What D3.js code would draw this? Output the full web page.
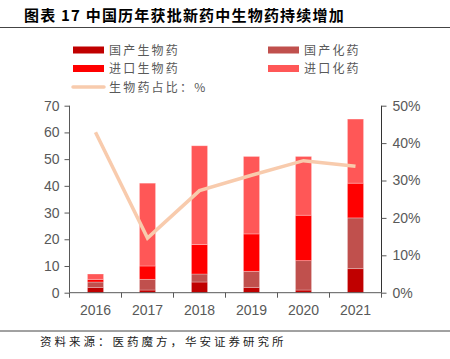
<!DOCTYPE html>
<html><head><meta charset="utf-8">
<script src="https://cdn.jsdelivr.net/npm/d3@7/dist/d3.min.js"></script>
<style>body{margin:0;background:#fff;}svg{display:block;}</style>
</head><body><svg id="c" width="450" height="359"></svg>
<script>
const years = ["2016","2017","2018","2019","2020","2021"];
const domesticBio = [2, 1, 4, 2, 1, 9];
const domesticChem = [2, 4, 3, 6, 11, 19];
const importBio = [1, 5, 11, 14, 17, 13];
const importChem = [2, 31, 37, 29, 22, 24];
const bioShare = [42.9, 14.6, 27.3, 31.4, 35.3, 33.8];
const leftTicks = [0,10,20,30,40,50,60,70];
const rightTicks = [0,10,20,30,40,50];
const seriesNames = ["国产生物药","国产化药","进口生物药","进口化药"];
const lineName = "生物药占比：%";
const colors = ["#C00000","#C0504D","#FF0000","#FF5757"];
const lineColor = "#F8CBAD";

const svg = d3.select("#c");
const font = "'Liberation Sans', Arial, sans-serif";
const cjk = "'Noto Sans CJK SC', sans-serif";

// title
svg.append("text").attr("x",24).attr("y",21).attr("font-family",cjk).attr("font-weight","bold")
  .attr("font-size",15).attr("fill","#000").attr("letter-spacing",1.2).text("图表 17  中国历年获批新药中生物药持续增加");
svg.append("line").attr("x1",0).attr("x2",450).attr("y1",27.5).attr("y2",27.5).attr("stroke","#444").attr("stroke-width",1);
svg.append("line").attr("x1",0).attr("x2",450).attr("y1",331).attr("y2",331).attr("stroke","#444").attr("stroke-width",1);
svg.append("text").attr("x",40).attr("y",346).attr("font-family",cjk).attr("font-size",11.5)
  .attr("fill","#222").attr("letter-spacing",3).text("资料来源：医药魔方，华安证券研究所");

const x = d3.scaleBand().domain(years).range([69.5,381.5]).paddingInner(0.69).paddingOuter(0.345);
const yL = d3.scaleLinear().domain([0,70]).range([292.7,105.7]);
const yR = d3.scaleLinear().domain([0,50]).range([292.7,105.7]);

const data = years.map((yr,i)=>({year:yr, v:[domesticBio[i],domesticChem[i],importBio[i],importChem[i]]}));
const stack = d3.stack().keys([0,1,2,3]).value((d,k)=>d.v[k]);
const layers = stack(data);

layers.forEach((layer,k)=>{
  svg.append("g").selectAll("rect").data(layer).join("rect")
    .attr("x",d=>x(d.data.year)).attr("width",x.bandwidth())
    .attr("y",d=>yL(d[1])).attr("height",d=>yL(d[0])-yL(d[1]))
    .attr("fill",colors[k]).attr("stroke","rgba(255,255,255,0.35)").attr("stroke-width",0.8);
});

// line
const line = d3.line().x((d,i)=>x(years[i])+x.bandwidth()/2).y(d=>yR(d));
svg.append("path").datum(bioShare).attr("d",line).attr("fill","none")
  .attr("stroke",lineColor).attr("stroke-width",3.5).attr("stroke-linejoin","miter");

// axes
const axL = svg.append("g").attr("transform","translate(69.5,0)")
  .call(d3.axisLeft(yL).tickValues(leftTicks).tickSize(5).tickPadding(5));
const axR = svg.append("g").attr("transform","translate(381.5,0)")
  .call(d3.axisRight(yR).tickValues(rightTicks).tickFormat(d=>d+"%").tickSize(5).tickPadding(6));
const xTickScale = d3.scaleLinear().domain([0,6]).range([69.5,381.5]);
const axB = svg.append("g").attr("transform","translate(0,292.7)");
axB.append("line").attr("x1",69.5).attr("x2",381.5).attr("stroke","#595959");
axB.selectAll("line.t").data(d3.range(7)).join("line").attr("class","t")
  .attr("x1",d=>xTickScale(d)).attr("x2",d=>xTickScale(d)).attr("y1",0).attr("y2",5).attr("stroke","#595959");
axB.selectAll("text").data(years).join("text")
  .attr("x",d=>x(d)+x.bandwidth()/2).attr("y",22).attr("text-anchor","middle")
  .attr("font-family",font).attr("font-size",14).attr("fill","#595959").text(d=>d);

[axL,axR].forEach(a=>{
  a.selectAll("path").attr("stroke","#595959");
  a.selectAll("line").attr("stroke","#595959");
  a.selectAll("text").attr("font-family",font).attr("font-size",14).attr("fill","#595959");
});
axL.select(".domain").attr("d","M0,105.7V292.7");
axR.select(".domain").attr("d","M0,105.7V292.7").attr("stroke","#333");

// legend
const leg = [
  {n:seriesNames[0],c:colors[0],x:73,y:50},
  {n:seriesNames[1],c:colors[1],x:268,y:50},
  {n:seriesNames[2],c:colors[2],x:73,y:68.5},
  {n:seriesNames[3],c:colors[3],x:268,y:68.5},
];
leg.forEach(l=>{
  svg.append("rect").attr("x",l.x).attr("y",l.y-3.5).attr("width",31).attr("height",7).attr("fill",l.c);
  svg.append("text").attr("x",l.x+36).attr("y",l.y+4.5).attr("font-family",cjk).attr("font-size",12)
    .attr("fill","#595959").attr("letter-spacing",2.2).text(l.n);
});
svg.append("line").attr("x1",73).attr("x2",104).attr("y1",87).attr("y2",87).attr("stroke",lineColor)
  .attr("stroke-width",3.5).attr("stroke-linecap","round");
svg.append("text").attr("x",109).attr("y",91.5).attr("font-family",cjk).attr("font-size",12)
  .attr("fill","#595959").attr("letter-spacing",2.2).text(lineName);
</script></body></html>
